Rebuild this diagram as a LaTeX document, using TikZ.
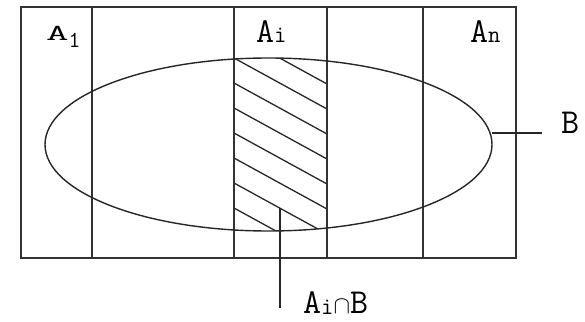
\documentclass[tikz,border=0pt]{standalone}
\usepackage{fontspec}
\usetikzlibrary{shapes.geometric}
\begin{document}
\begin{tikzpicture}[x=1pt,y=-1pt,
  frame/.style={line width=1.6pt,draw=black!80},
  ln/.style={line width=1.3pt,draw=black!85},
  lab/.style={inner sep=0pt,anchor=base west,font=\ttfamily\fontsize{35}{35}\selectfont}]
\useasboundingbox (0,0) rectangle (585,321);
% hatching of A_i cap B
\begin{scope}
  \clip (234,0) rectangle (327,321);
  \clip (268.5,144.5) ellipse [x radius=223.5, y radius=86.5];
  \foreach \k in {0,...,8} \draw[ln] (234,8+25*\k) -- (327,59+25*\k);
\end{scope}
% partition
\draw[frame] (21,7) rectangle (516,258);
\foreach \xx in {92,234,327,423} \draw[frame] (\xx,7) -- (\xx,258);
% ellipse B
\node[draw=black!85,line width=1.4pt,ellipse,minimum width=447pt,minimum height=173pt,inner sep=0pt] (ell) at (268.5,144.5) {};
% labels
\node[lab] (a1) at (46,41) {\scalebox{1.25}[0.65]{A}\raisebox{-7pt}{\fontsize{23}{23}\selectfont 1}};
\node[lab] (ai) at (256,42) {A\raisebox{-1pt}{\fontsize{24}{24}\selectfont i}};
\node[lab] (an) at (470,42) {A\raisebox{-1pt}{\fontsize{24}{24}\selectfont n}};
\node[lab] (b) at (561,133) {B};
\node[lab] (aib) at (303,313) {A\raisebox{-1pt}{\fontsize{24}{24}\selectfont i}$\cap$B};
% pointers
\coordinate (bstart) at (492,133);
\coordinate (bend) at (542,133);
\draw[ln] (bstart) -- (bend);
\coordinate (ptop) at (280,208);
\coordinate (pbot) at (280,308);
\draw[ln] (ptop) -- (pbot);
\end{tikzpicture}
\end{document}
